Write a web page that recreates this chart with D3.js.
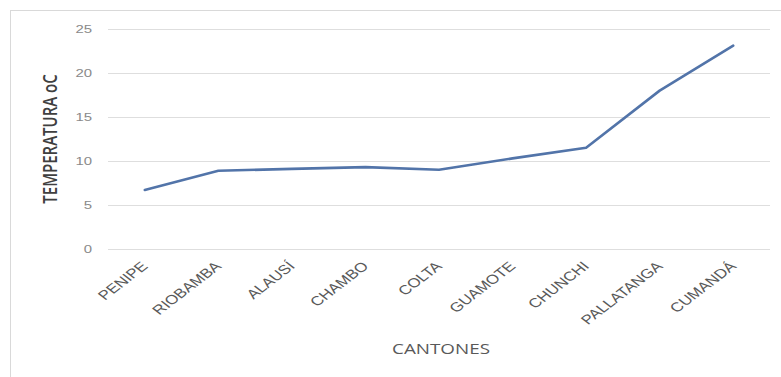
<!DOCTYPE html>
<html>
<head>
<meta charset="utf-8">
<script src="https://cdn.jsdelivr.net/npm/d3@7"></script>
<style>
  html, body { margin: 0; padding: 0; background: #fff; }
  svg { display: block; font-family: "Open Sans", "Liberation Sans", sans-serif; }
</style>
</head>
<body>
<svg id="chart" width="781" height="377"></svg>
<script>
// Average temperature by canton
const cantones = ["PENIPE", "RIOBAMBA", "ALAUSÍ", "CHAMBO", "COLTA", "GUAMOTE", "CHUNCHI", "PALLATANGA", "CUMANDÁ"];
const temperatura = [6.7, 8.9, 9.1, 9.3, 9.0, 10.3, 11.5, 18.0, 23.1];
const yTicks = [0, 5, 10, 15, 20, 25];

const svg = d3.select("#chart");
const W = 781, H = 377;
const margin = { left: 108, right: 11, top: 29, bottom: 128 };
const stretch = 1.3; // text is drawn horizontally widened

// Outer chart frame
svg.append("rect")
  .attr("x", 10.5).attr("y", 10.5)
  .attr("width", 820).attr("height", 420)
  .attr("fill", "#fff").attr("stroke", "#d9d9d9").attr("stroke-width", 1);

const x = d3.scaleBand()
  .domain(cantones)
  .range([margin.left, W - margin.right]);

const y = d3.scaleLinear()
  .domain([0, 25])
  .range([H - margin.bottom, margin.top]);

// Horizontal gridlines
svg.append("g")
  .selectAll("line")
  .data(yTicks)
  .join("line")
  .attr("x1", margin.left).attr("x2", W - margin.right)
  .attr("y1", d => Math.round(y(d)) + 0.5).attr("y2", d => Math.round(y(d)) + 0.5)
  .attr("stroke", "#dedede").attr("stroke-width", 1);

// Y axis labels
const yAxis = d3.axisLeft(y).tickValues(yTicks).tickSize(0).tickPadding(0);
const gy = svg.append("g")
  .attr("transform", `translate(${margin.left},0)`)
  .call(yAxis);
gy.select(".domain").remove();
gy.selectAll("text")
  .attr("x", 0)
  .attr("fill", "#8a8a8a")
  .style("font-size", "11.5px")
  .attr("transform", `translate(-16,0) scale(${stretch},1)`);

// X axis labels, rotated
const xAxis = d3.axisBottom(x).tickSize(0).tickPadding(0);
const gx = svg.append("g")
  .attr("transform", `translate(0,${H - margin.bottom})`)
  .call(xAxis);
gx.select(".domain").remove();
gx.selectAll("text")
  .attr("fill", "#595959")
  .style("font-size", "13px")
  .attr("text-anchor", "end")
  .attr("y", 0)
  .attr("dy", 0)
  .attr("transform", `translate(4,18) scale(${stretch},1) rotate(-45)`);

// Temperature line
const line = d3.line()
  .x((d, i) => x(cantones[i]) + x.bandwidth() / 2)
  .y(d => y(d));

svg.append("path")
  .datum(temperatura)
  .attr("d", line)
  .attr("fill", "none")
  .attr("stroke", "#5274a9")
  .attr("stroke-width", 2.6)
  .attr("stroke-linejoin", "round")
  .attr("stroke-linecap", "round");

// Axis titles
svg.append("text")
  .attr("transform", `translate(52,139) scale(${stretch},1) rotate(-90)`)
  .attr("text-anchor", "middle")
  .attr("dominant-baseline", "middle")
  .attr("fill", "#404040")
  .style("font-size", "15px")
  .style("font-weight", "600")
  .text("TEMPERATURA oC");

svg.append("text")
  .attr("transform", `translate(441,354) scale(${stretch},1)`)
  .attr("text-anchor", "middle")
  .attr("fill", "#595959")
  .style("font-size", "14.5px")
  .text("CANTONES");
</script>
</body>
</html>
